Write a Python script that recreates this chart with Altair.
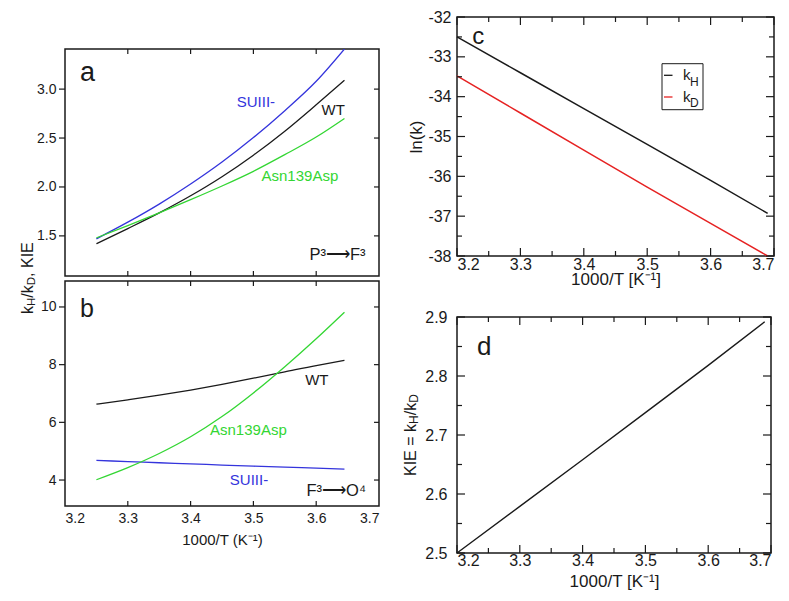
import altair as alt
import pandas as pd

FONT = "Liberation Sans"
INK = "#1a1a1a"
BLUE = "#3434dc"
GREEN = "#33d633"
RED = "#e62222"

# ---------------- data ----------------
x_ab = [3.25, 3.30, 3.35, 3.40, 3.45, 3.50, 3.55, 3.60, 3.645]
# panel a : P3 -> F3
a_wt = [1.42, 1.575, 1.735, 1.91, 2.105, 2.325, 2.57, 2.84, 3.09]
a_suiii = [1.47, 1.64, 1.825, 2.03, 2.255, 2.505, 2.78, 3.08, 3.41]
a_asn = [1.48, 1.605, 1.735, 1.87, 2.01, 2.16, 2.33, 2.51, 2.70]
# panel b : F3 -> O4
b_wt = [6.63, 6.78, 6.94, 7.12, 7.32, 7.53, 7.75, 7.97, 8.15]
b_suiii = [4.68, 4.64, 4.60, 4.56, 4.52, 4.48, 4.45, 4.41, 4.38]
b_asn = [4.01, 4.43, 4.92, 5.50, 6.20, 7.02, 7.93, 8.90, 9.82]
colors_ab = ["#1a1a1a", "#3434dc", "#33d633"]  # WT, SUIII-, Asn139Asp

# panels c, d
x_cd = [3.20, 3.30, 3.40, 3.50, 3.60, 3.69]
c_kh = [-32.50, -33.40, -34.30, -35.20, -36.10, -36.93]
c_kd = [-33.48, -34.41, -35.34, -36.27, -37.18, -38.00]
d_kie = [2.500, 2.579, 2.658, 2.738, 2.818, 2.892]

# tick values
x_major = [3.2, 3.3, 3.4, 3.5, 3.6, 3.7]
x_inner = [3.3, 3.4, 3.5, 3.6]
x_minor = [3.25, 3.35, 3.45, 3.55, 3.65]
a_yticks = [1.5, 2.0, 2.5, 3.0]
b_yticks = [4, 6, 8, 10]
c_yticks = [-38, -37, -36, -35, -34, -33, -32]
c_yminor = [-37.5, -36.5, -35.5, -34.5, -33.5, -32.5]
d_yticks = [2.5, 2.6, 2.7, 2.8, 2.9]
d_yminor = [2.55, 2.65, 2.75, 2.85]

XDOM = [3.2, 3.7]
A_YDOM = [1.09, 3.41]
B_YDOM = [3.1, 10.9]
C_YDOM = [-38, -32]
D_YDOM = [2.5, 2.9]

# panel sizes
W_AB, H_A, H_B = 314, 227, 225
W_C, H_C = 317, 239
W_D, H_D = 314, 236

one = pd.DataFrame({"k": [0]})


def xsc():
    return alt.Scale(domain=XDOM, nice=False, zero=False)


def ysc(dom):
    return alt.Scale(domain=dom, nice=False, zero=False)


def ptext(s, x, y, size, color=INK, angle=0, align="left"):
    return alt.Chart(one).mark_text(
        text=s, font=FONT, fontSize=size, color=color, angle=angle,
        align=align, baseline="alphabetic"
    ).encode(x=alt.value(x), y=alt.value(y))


def xticks(vals, h, length, side):
    y0, y1 = (0, length) if side == "top" else (h - length, h)
    return alt.Chart(pd.DataFrame({"v": vals})).mark_rule(
        color=INK, strokeWidth=1.2).encode(
        x=alt.X("v:Q", scale=xsc(), axis=None), y=alt.value(y0), y2=alt.value(y1))


def yticks(vals, ydom, w, length, side):
    if side == "left_in":
        x0, x1 = 0, length
    elif side == "right_in":
        x0, x1 = w - length, w
    else:  # left, pointing outwards
        x0, x1 = -length, 0
    return alt.Chart(pd.DataFrame({"v": vals})).mark_rule(
        color=INK, strokeWidth=1.2).encode(
        y=alt.Y("v:Q", scale=ysc(ydom), axis=None), x=alt.value(x0), x2=alt.value(x1))


def label_layer(df, ydom, size=15):
    return alt.Chart(df).mark_text(font=FONT, fontSize=size, align="center",
                                   baseline="alphabetic").encode(
        x=alt.X("x:Q", scale=xsc(), axis=None),
        y=alt.Y("y:Q", scale=ysc(ydom), axis=None),
        text="text:N",
        color=alt.Color("color:N", scale=None),
        size=alt.Size("size:Q", scale=None),
    )


def letter_layer(df, ydom, size):
    return alt.Chart(df).mark_text(font=FONT, fontSize=size, align="left",
                                   baseline="alphabetic", color=INK).encode(
        x=alt.X("x:Q", scale=xsc(), axis=None),
        y=alt.Y("y:Q", scale=ysc(ydom), axis=None),
        text="text:N",
    )


def ylab_axis(values, fmt, size, pad):
    return alt.Axis(orient="left", values=values, format=fmt, ticks=False,
                    labelPadding=pad, domain=False, grid=False, title="",
                    labelFont=FONT, labelFontSize=size, labelColor=INK)


def xlab_axis(title, size, tsize, pad, tpad):
    return alt.Axis(orient="bottom", values=x_major, format=".1f", ticks=False,
                    labelPadding=pad, domain=False, grid=False, title=title,
                    labelFont=FONT, labelFontSize=size, labelColor=INK,
                    titleFont=FONT, titleFontSize=tsize, titleFontWeight="normal",
                    titleColor=INK, titlePadding=tpad)


# ---------------- panel a ----------------
a_df = pd.DataFrame({
    "x": x_ab * 3,
    "y": a_wt + a_suiii + a_asn,
    "color": [c for c in colors_ab for _ in x_ab],
})
a_lines = alt.Chart(a_df).mark_line(strokeWidth=1.3, clip=True, interpolate="monotone").encode(
    x=alt.X("x:Q", scale=xsc(), axis=None),
    y=alt.Y("y:Q", scale=ysc(A_YDOM), axis=ylab_axis(a_yticks, ".1f", 14, 9)),
    color=alt.Color("color:N", scale=None),
)
a_labels = pd.DataFrame({
    "x": [3.504, 3.627, 3.574, 3.634],
    "y": [2.817, 2.735, 2.064, 1.257],
    "text": ["SUIII-", "WT", "Asn139Asp", "P³⟶F³"],
    "color": [BLUE, INK, GREEN, INK],
    "size": [15, 15, 15, 16.5],
})
a_letter = pd.DataFrame({"x": [3.224], "y": [3.086], "text": ["a"]})

# shared y title of a and b: k_H/k_D, KIE (rotated, composed)
yt_x, yt_y = -32.3, 265
ytitle = [
    ptext("k", yt_x, yt_y, 16, angle=270),
    ptext("H", yt_x + 2.3, yt_y - 8.0, 11.5, angle=270),
    ptext("/k", yt_x, yt_y - 16.3, 16, angle=270),
    ptext("D", yt_x + 2.3, yt_y - 28.8, 11.5, angle=270),
    ptext(", KIE", yt_x, yt_y - 37.1, 16, angle=270),
]
a_bounds = alt.Chart(one).mark_rule(opacity=0).encode(
    x=alt.value(-56), x2=alt.value(W_AB + 12), y=alt.value(10))

panel_a = alt.layer(
    a_lines,
    xticks(x_inner, H_A, 5, "top"),
    xticks(x_inner, H_A, 5, "bottom"),
    yticks(a_yticks, A_YDOM, W_AB, 6, "left_out"),
    yticks(a_yticks, A_YDOM, W_AB, 5, "right_in"),
    label_layer(a_labels, A_YDOM),
    letter_layer(a_letter, A_YDOM, 27),
    *ytitle,
    a_bounds,
).resolve_axis(x="independent", y="independent").properties(width=W_AB, height=H_A)

# ---------------- panel b ----------------
b_df = pd.DataFrame({
    "x": x_ab * 3,
    "y": b_wt + b_suiii + b_asn,
    "color": [c for c in colors_ab for _ in x_ab],
})
b_lines = alt.Chart(b_df).mark_line(strokeWidth=1.3, clip=True, interpolate="monotone").encode(
    x=alt.X("x:Q", scale=xsc(), axis=xlab_axis("1000/T (K⁻¹)", 14, 15, 5, 7)),
    y=alt.Y("y:Q", scale=ysc(B_YDOM), axis=ylab_axis(b_yticks, "d", 14, 9)),
    color=alt.Color("color:N", scale=None),
)
b_labels = pd.DataFrame({
    "x": [3.601, 3.492, 3.493, 3.632],
    "y": [7.29, 5.557, 3.827, 3.447],
    "text": ["WT", "Asn139Asp", "SUIII-", "F³⟶O⁴"],
    "color": [INK, GREEN, BLUE, INK],
    "size": [15, 15, 15, 16.5],
})
b_letter = pd.DataFrame({"x": [3.224], "y": [9.665], "text": ["b"]})

panel_b = alt.layer(
    b_lines,
    xticks(x_inner, H_B, 5, "top"),
    xticks(x_inner, H_B, 5, "bottom"),
    yticks(b_yticks, B_YDOM, W_AB, 6, "left_out"),
    yticks(b_yticks, B_YDOM, W_AB, 5, "right_in"),
    label_layer(b_labels, B_YDOM),
    letter_layer(b_letter, B_YDOM, 25),
).resolve_axis(x="independent", y="independent").properties(width=W_AB, height=H_B)

# ---------------- panel c ----------------
c_df = pd.DataFrame({
    "x": x_cd * 2,
    "y": c_kh + c_kd,
    "color": [INK] * len(x_cd) + [RED] * len(x_cd),
})
c_lines = alt.Chart(c_df).mark_line(strokeWidth=1.5).encode(
    x=alt.X("x:Q", scale=xsc(), axis=xlab_axis("1000/T [K⁻¹]", 16, 17, 0, -1)),
    y=alt.Y("y:Q", scale=ysc(C_YDOM), axis=alt.Axis(
        orient="left", values=c_yticks, labelExpr="replace(datum.label, '−', '-')",
        ticks=False, labelPadding=6, domain=False, grid=False, title="ln(k)",
        labelFont=FONT, labelFontSize=16, labelColor=INK, titleFont=FONT,
        titleFontSize=17, titleFontWeight="normal", titleColor=INK, titlePadding=2)),
    color=alt.Color("color:N", scale=None),
)
c_letter = pd.DataFrame({"x": [3.224], "y": [-32.67], "text": ["c"]})
legend_box = alt.Chart(one).mark_rect(fill="white", stroke=INK, strokeWidth=1).encode(
    x=alt.value(205), x2=alt.value(246), y=alt.value(46.7), y2=alt.value(92.7))
legend_items = [
    alt.Chart(one).mark_rule(color=INK, strokeWidth=1.3).encode(
        x=alt.value(207), x2=alt.value(215.5), y=alt.value(58.3)),
    alt.Chart(one).mark_rule(color=RED, strokeWidth=1.3).encode(
        x=alt.value(207), x2=alt.value(215.5), y=alt.value(80)),
    ptext("k", 226, 63.3, 15),
    ptext("H", 233, 68.5, 12),
    ptext("k", 226, 85, 15),
    ptext("D", 233, 90.2, 12),
]
c_bounds = alt.Chart(one).mark_rule(opacity=0).encode(
    x=alt.value(-62), x2=alt.value(0), y=alt.value(10))

panel_c = alt.layer(
    c_lines,
    xticks(x_major, H_C, 8, "top"),
    xticks(x_major, H_C, 8, "bottom"),
    xticks(x_minor, H_C, 5, "top"),
    xticks(x_minor, H_C, 5, "bottom"),
    yticks(c_yticks, C_YDOM, W_C, 8, "left_in"),
    yticks(c_yticks, C_YDOM, W_C, 8, "right_in"),
    yticks(c_yminor, C_YDOM, W_C, 5, "left_in"),
    yticks(c_yminor, C_YDOM, W_C, 5, "right_in"),
    letter_layer(c_letter, C_YDOM, 24),
    legend_box,
    *legend_items,
    c_bounds,
).resolve_axis(x="independent", y="independent").properties(width=W_C, height=H_C)

# ---------------- panel d ----------------
d_df = pd.DataFrame({"x": x_cd, "y": d_kie})
d_line = alt.Chart(d_df).mark_line(strokeWidth=1.4, color=INK).encode(
    x=alt.X("x:Q", scale=xsc(), axis=xlab_axis("1000/T [K⁻¹]", 16, 17, -1, 5)),
    y=alt.Y("y:Q", scale=ysc(D_YDOM), axis=ylab_axis(d_yticks, ".1f", 16, 10)),
)
d_letter = pd.DataFrame({"x": [3.232], "y": [2.836], "text": ["d"]})
dt_x, dt_y = -41, 159
d_title = [
    ptext("KIE = k", dt_x, dt_y, 16, angle=270),
    ptext("H", dt_x + 2.3, dt_y - 52, 12, angle=270),
    ptext("/k", dt_x, dt_y - 60.7, 16, angle=270),
    ptext("D", dt_x + 2.3, dt_y - 73.2, 12, angle=270),
]

panel_d = alt.layer(
    d_line,
    xticks(x_major, H_D, 8, "top"),
    xticks(x_major, H_D, 8, "bottom"),
    xticks(x_minor, H_D, 5, "top"),
    xticks(x_minor, H_D, 5, "bottom"),
    yticks(d_yticks, D_YDOM, W_D, 8, "left_in"),
    yticks(d_yticks, D_YDOM, W_D, 8, "right_in"),
    yticks(d_yminor, D_YDOM, W_D, 5, "left_in"),
    yticks(d_yminor, D_YDOM, W_D, 5, "right_in"),
    letter_layer(d_letter, D_YDOM, 26),
    *d_title,
).resolve_axis(x="independent", y="independent").properties(width=W_D, height=H_D)

# invisible spacer that lowers the left column
spacer = alt.Chart(one).mark_point(opacity=0).encode(
    x=alt.value(0), y=alt.value(0)
).properties(width=W_AB, height=27, view=alt.ViewBackground(stroke="transparent"))

left = alt.vconcat(spacer, panel_a, panel_b, spacing=5, bounds="flush")
right = alt.vconcat(panel_c, panel_d, spacing=61, bounds="flush")

chart = alt.hconcat(left, right, spacing=2, padding=0).configure_view(
    stroke=INK, strokeWidth=1.5
)

chart.save("out.html", embed_options={"renderer": "svg", "actions": False})
